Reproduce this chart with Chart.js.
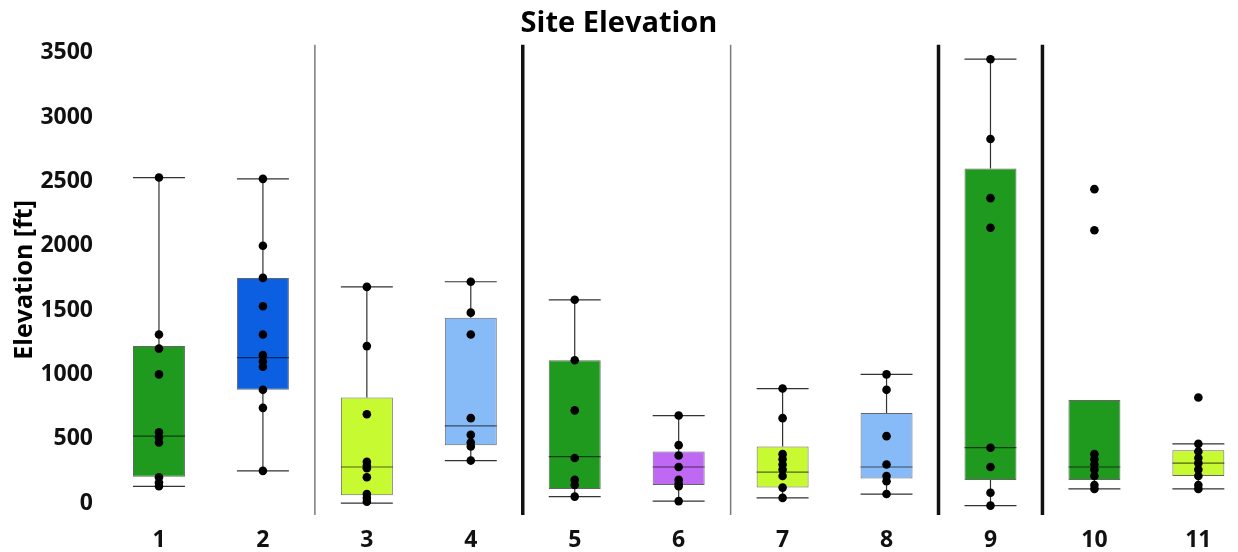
<!DOCTYPE html>
<html>
<head>
<meta charset="utf-8">
<title>Site Elevation</title>
<script src="https://cdn.jsdelivr.net/npm/chart.js@4.4.1/dist/chart.umd.min.js"></script>
<style>
  html, body { margin: 0; padding: 0; background: #fff; }
  #wrap { width: 1238px; height: 552px; position: relative; }
</style>
</head>
<body>
<div id="wrap"><canvas id="elevChart"></canvas></div>
<script>
// site numbers on the x axis
const sites = [1, 2, 3, 4, 5, 6, 7, 8, 9, 10, 11];

// box plot stats (ft)
const whiskerLow  = [130, 250,    0, 330,   50,  15,  40,   70,  -20, 110, 110];
const q1          = [205, 880,   60, 450,  110, 140, 120,  190,  180, 180, 210];
const median      = [520, 1130, 280, 600,  360, 280, 240,  280,  430, 280, 310];
const q3          = [1220, 1750, 820, 1440, 1110, 400, 440, 700, 2600, 800, 410];
const whiskerHigh = [2530, 2520, 1680, 1720, 1580, 680, 890, 1000, 3450, 800, 460];

// the single measurements drawn as dots
const sitePoints = [
  [2530, 1310, 1200, 1000, 550, 510, 470, 200, 160, 130],
  [2520, 2000, 1750, 1530, 1310, 1150, 1100, 1060, 880, 740, 250],
  [1680, 1220, 690, 320, 290, 270, 200, 70, 40, 10],
  [1720, 1480, 1310, 660, 530, 470, 440, 330],
  [1580, 1110, 720, 350, 180, 140, 50],
  [680, 450, 370, 280, 180, 150, 130, 15],
  [890, 660, 380, 340, 300, 260, 210, 120, 40],
  [1000, 880, 520, 300, 210, 170, 70],
  [3450, 2830, 2370, 2140, 430, 280, 80, -20],
  [2440, 2120, 380, 340, 300, 260, 210, 140, 110],
  [820, 460, 400, 350, 310, 260, 210, 140, 110]
];

const boxColors = ['#1f9a1f', '#0b5fe0', '#c8fa32', '#86bbf7', '#1f9a1f', '#bf68f4',
                   '#c8fa32', '#86bbf7', '#1f9a1f', '#1f9a1f', '#c8fa32'];

const yTicks = [0, 500, 1000, 1500, 2000, 2500, 3000, 3500];

// vertical dividers between groups of sites
const thinDividers = [2.5, 6.5];
const thickDividers = [4.5, 8.5, 9.5];

const halfBox = 0.25; // in x units

// build datasets from the arrays
const boxData = sites.map((s, i) => ({ x: s, y: [q1[i], q3[i]] }));
const dotData = [];
sitePoints.forEach((pts, i) => {
  pts.forEach(v => dotData.push({ x: sites[i], y: v }));
});

// whiskers, caps, medians and dividers, all placed with the chart scales
const boxExtras = {
  id: 'boxExtras',
  beforeDatasetsDraw(chart) {
    const ctx = chart.ctx;
    const xs = chart.scales.x;
    const ys = chart.scales.y;
    const area = chart.chartArea;
    ctx.save();
    // dividers
    thinDividers.forEach(d => {
      const px = xs.getPixelForValue(d);
      ctx.beginPath();
      ctx.strokeStyle = '#7a7a7a';
      ctx.lineWidth = 1.5;
      ctx.moveTo(px, area.top);
      ctx.lineTo(px, area.bottom);
      ctx.stroke();
    });
    thickDividers.forEach(d => {
      const px = xs.getPixelForValue(d);
      ctx.beginPath();
      ctx.strokeStyle = '#111';
      ctx.lineWidth = 3.5;
      ctx.moveTo(px, area.top);
      ctx.lineTo(px, area.bottom);
      ctx.stroke();
    });
    // whiskers and caps
    ctx.strokeStyle = '#333';
    ctx.lineWidth = 1.2;
    sites.forEach((s, i) => {
      const cx = xs.getPixelForValue(s);
      const left = xs.getPixelForValue(s - halfBox);
      const right = xs.getPixelForValue(s + halfBox);
      const lo = ys.getPixelForValue(whiskerLow[i]);
      const hi = ys.getPixelForValue(whiskerHigh[i]);
      ctx.beginPath();
      ctx.moveTo(cx, hi);
      ctx.lineTo(cx, ys.getPixelForValue(q3[i]));
      ctx.moveTo(cx, ys.getPixelForValue(q1[i]));
      ctx.lineTo(cx, lo);
      ctx.moveTo(left, lo);
      ctx.lineTo(right, lo);
      if (whiskerHigh[i] > q3[i]) {
        ctx.moveTo(left, hi);
        ctx.lineTo(right, hi);
      }
      ctx.stroke();
    });
    ctx.restore();
  },
  afterDatasetDraw(chart, args) {
    if (args.index !== 0) return;
    const ctx = chart.ctx;
    const xs = chart.scales.x;
    const ys = chart.scales.y;
    ctx.save();
    ctx.strokeStyle = 'rgba(0,0,0,0.6)';
    ctx.lineWidth = 1.2;
    sites.forEach((s, i) => {
      const my = ys.getPixelForValue(median[i]);
      ctx.beginPath();
      ctx.moveTo(xs.getPixelForValue(s - halfBox), my);
      ctx.lineTo(xs.getPixelForValue(s + halfBox), my);
      ctx.stroke();
    });
    ctx.restore();
  }
};

const elevChart = document.getElementById('elevChart');

new Chart(elevChart, {
  type: 'bar',
  data: {
    datasets: [
      {
        type: 'bar',
        data: boxData,
        backgroundColor: boxColors,
        borderColor: 'rgba(0,0,0,0.6)',
        borderWidth: 1,
        borderSkipped: false,
        barPercentage: 1,
        categoryPercentage: 0.5,
        order: 2
      },
      {
        type: 'scatter',
        data: dotData,
        pointRadius: 4.3,
        pointBackgroundColor: '#000',
        pointBorderWidth: 0,
        showLine: false,
        order: 1
      }
    ]
  },
  options: {
    responsive: true,
    maintainAspectRatio: false,
    animation: false,
    layout: { padding: { left: 0, right: 0, top: 0, bottom: 0 } },
    plugins: {
      legend: { display: false },
      tooltip: { enabled: false },
      title: {
        display: true,
        text: 'Site Elevation',
        color: '#000',
        font: { family: 'Open Sans', size: 29, weight: 'bold', lineHeight: 1.2 },
        padding: { top: 6, bottom: 4 }
      }
    },
    scales: {
      x: {
        type: 'linear',
        offset: false,
        min: 0.5,
        max: 11.34,
        grid: { display: false, offset: false },
        border: { display: false },
        afterBuildTicks: (scale) => {
          scale.ticks = sites.map(v => ({ value: v }));
        },
        afterFit: (scale) => { scale.height = 37; },
        ticks: {
          color: '#111',
          padding: 4,
          autoSkip: false,
          maxRotation: 0,
          callback: (v) => String(v),
          font: { family: 'Open Sans', size: 23, weight: 'bold' }
        }
      },
      y: {
        min: -93,
        max: 3562,
        grid: { display: false },
        border: { display: false },
        afterBuildTicks: (scale) => {
          scale.ticks = yTicks.map(v => ({ value: v }));
        },
        afterFit: (scale) => { scale.width = 107; },
        ticks: {
          color: '#111',
          padding: 6,
          callback: (v) => String(v),
          font: { family: 'Open Sans', size: 23, weight: 'bold' }
        },
        title: {
          display: true,
          text: 'Elevation [ft]',
          color: '#000',
          padding: { top: 10, bottom: 0 },
          font: { family: 'Open Sans', size: 25, weight: 'bold' }
        }
      }
    }
  },
  plugins: [boxExtras]
});
</script>
</body>
</html>
